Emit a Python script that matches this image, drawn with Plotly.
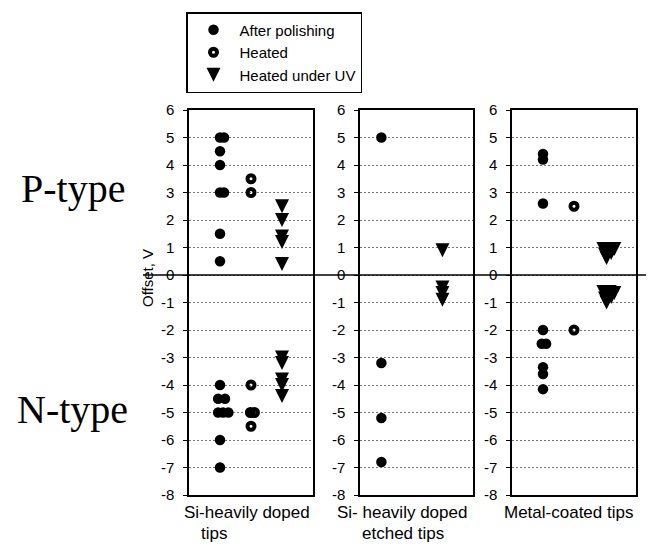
import plotly.graph_objects as go

# ---------------- data ----------------
series_names = ["After polishing", "Heated", "Heated under UV"]
panel_line1 = ["Si-heavily doped", "Si- heavily doped", "Metal-coated tips"]
panel_line2 = ["tips", "etched tips", ""]
y_ticks = list(range(-8, 7))

# Panel 1: Si-heavily doped tips (x: 1 = after polishing, 2 = heated, 3 = heated under UV)
p1_polish_x = [1.0, 1.13, 1.0, 1.0, 1.0, 1.13, 1.0, 1.0, 1.0, 0.94, 1.16, 0.94, 1.1, 1.27, 1.0, 1.0]
p1_polish_y = [5, 5, 4.5, 4, 3, 3, 1.5, 0.5, -4, -4.5, -4.5, -5, -5, -5, -6, -7]
p1_heated_x = [2.0, 2.0, 2.0, 1.98, 2.11, 2.0]
p1_heated_y = [3.5, 3, -4, -5, -5, -5.5]
p1_uv_x = [3.0, 3.0, 3.0, 3.0, 3.0, 3.0, 3.0, 3.0, 3.0, 3.0]
p1_uv_y = [2.5, 2.0, 1.4, 1.2, 0.4, -3.0, -3.2, -3.8, -4.0, -4.4]

# Panel 2: Si- heavily doped etched tips
p2_polish_x = [1.0, 1.0, 1.0, 1.0]
p2_polish_y = [5, -3.2, -5.2, -6.8]
p2_heated_x = []
p2_heated_y = []
p2_uv_x = [3.0, 3.0, 3.0, 3.0]
p2_uv_y = [0.9, -0.45, -0.65, -0.9]

# Panel 3: Metal-coated tips
p3_polish_x = [1.0, 1.0, 1.0, 1.0, 0.96, 1.1, 1.0, 1.0, 1.0]
p3_polish_y = [4.4, 4.2, 2.6, -2.0, -2.5, -2.5, -3.35, -3.6, -4.15]
p3_heated_x = [2.0, 2.0]
p3_heated_y = [2.5, -2.0]
p3_uv_x = [2.95, 3.1, 3.3, 3.0, 3.05, 3.2, 2.95, 3.15, 3.3, 3.0, 3.2, 3.05]
p3_uv_y = [0.95, 0.9, 0.95, 0.75, 0.62, 0.8, -0.62, -0.62, -0.65, -0.85, -0.8, -1.0]

panels = [
    (p1_polish_x, p1_polish_y, p1_heated_x, p1_heated_y, p1_uv_x, p1_uv_y),
    (p2_polish_x, p2_polish_y, p2_heated_x, p2_heated_y, p2_uv_x, p2_uv_y),
    (p3_polish_x, p3_polish_y, p3_heated_x, p3_heated_y, p3_uv_x, p3_uv_y),
]

# ---------------- layout geometry ----------------
W, H = 654, 556
OFF = 8  # page body margin offset


def fx(p):
    return (p - OFF) / W


def fy(p):
    return 1 - (p - OFF) / H


x_domains = [(189, 313), (360, 473), (512, 636)]
x_ranges = [[0, 4], [0.3, 4.0], [0, 4]]
y_top, y_bot = 110, 495

SANS = "Liberation Sans, Arial, sans-serif"
SERIF = "Liberation Serif, Times New Roman, serif"

fig = go.Figure()

marker_styles = [
    dict(symbol="circle", size=10.5, color="black", line=dict(width=0)),
    dict(symbol="circle-open", size=7, color="black", line=dict(width=4, color="black")),
    dict(symbol="arrow-down", size=14, color="black", standoff=7, line=dict(width=0)),
]
legend_styles = [
    marker_styles[0],
    marker_styles[1],
    dict(symbol="arrow-up", angle=180, size=14, color="black", standoff=7, line=dict(width=0)),
]

# legend entries
for k in range(3):
    fig.add_trace(go.Scatter(
        x=[None], y=[None], mode="markers", name=series_names[k],
        legendgroup=series_names[k], showlegend=True,
        marker=legend_styles[k], xaxis="x", yaxis="y",
    ))

for i, pdata in enumerate(panels):
    xa = "x" if i == 0 else f"x{i+1}"
    ya = "y" if i == 0 else f"y{i+1}"
    for k in range(3):
        xs, ys = pdata[2 * k], pdata[2 * k + 1]
        fig.add_trace(go.Scatter(
            x=xs, y=ys, mode="markers", name=series_names[k],
            legendgroup=series_names[k], showlegend=False,
            marker=marker_styles[k], xaxis=xa, yaxis=ya,
            hoverinfo="skip",
        ))

layout = dict(
    width=W, height=H, margin=dict(l=0, r=0, t=0, b=0, autoexpand=False),
    paper_bgcolor="white", plot_bgcolor="white",
    font=dict(family=SANS, color="black"),
    showlegend=True,
    legend=dict(
        x=fx(186), y=fy(12), xanchor="left", yanchor="top",
        bordercolor="black", borderwidth=1.5, bgcolor="white",
        font=dict(family=SANS, size=15, color="black"),
        tracegroupgap=0, itemwidth=42,
    ),
)

for i in range(3):
    sx = "" if i == 0 else str(i + 1)
    d0, d1 = x_domains[i]
    layout["xaxis" + sx] = dict(
        domain=[fx(d0), fx(d1)], range=x_ranges[i],
        showgrid=False, zeroline=False, showticklabels=False, ticks="",
        showline=True, linecolor="black", linewidth=1.5, mirror=True,
        anchor="y" + sx, fixedrange=True,
    )
    layout["yaxis" + sx] = dict(
        domain=[fy(y_bot), fy(y_top)], range=[-8, 6],
        tickvals=y_ticks, ticktext=[str(v) for v in y_ticks],
        showgrid=True, gridcolor="#777777", gridwidth=1, griddash="2px,2px",
        zeroline=False, showline=True, linecolor="black", linewidth=1.5,
        mirror=True, ticks="outside", ticklen=4, tickcolor="black", tickwidth=1,
        tickfont=dict(family=SANS, size=15, color="black"),
        ticklabelstandoff=6,
        anchor="x" + sx, fixedrange=True,
    )

fig.update_layout(**layout)

# zero line crossing the whole chart
fig.add_shape(type="line", xref="paper", yref="y", x0=fx(143), x1=1.0, y0=0, y1=0,
              line=dict(color="black", width=1.5), layer="above")


def note(text, x, y, size, family=SANS, angle=0):
    return dict(text=text, x=fx(x), y=fy(y), xref="paper", yref="paper",
                xanchor="center", yanchor="middle", showarrow=False, textangle=angle,
                borderpad=0, font=dict(family=family, size=size, color="black"))


ann = [
    note("P-type", 73, 188, 40, SERIF),
    note("N-type", 72, 410, 40, SERIF),
    note("Offset, V", 147, 278, 15, SANS, -90),
]
line1_x = [247, 402, 568]
line2_x = [214, 403, 568]
for i in range(3):
    ann.append(note(panel_line1[i], line1_x[i], 512, 17))
    if panel_line2[i]:
        ann.append(note(panel_line2[i], line2_x[i], 533, 17))
fig.update_layout(annotations=ann)

fig.write_html("out.html")
